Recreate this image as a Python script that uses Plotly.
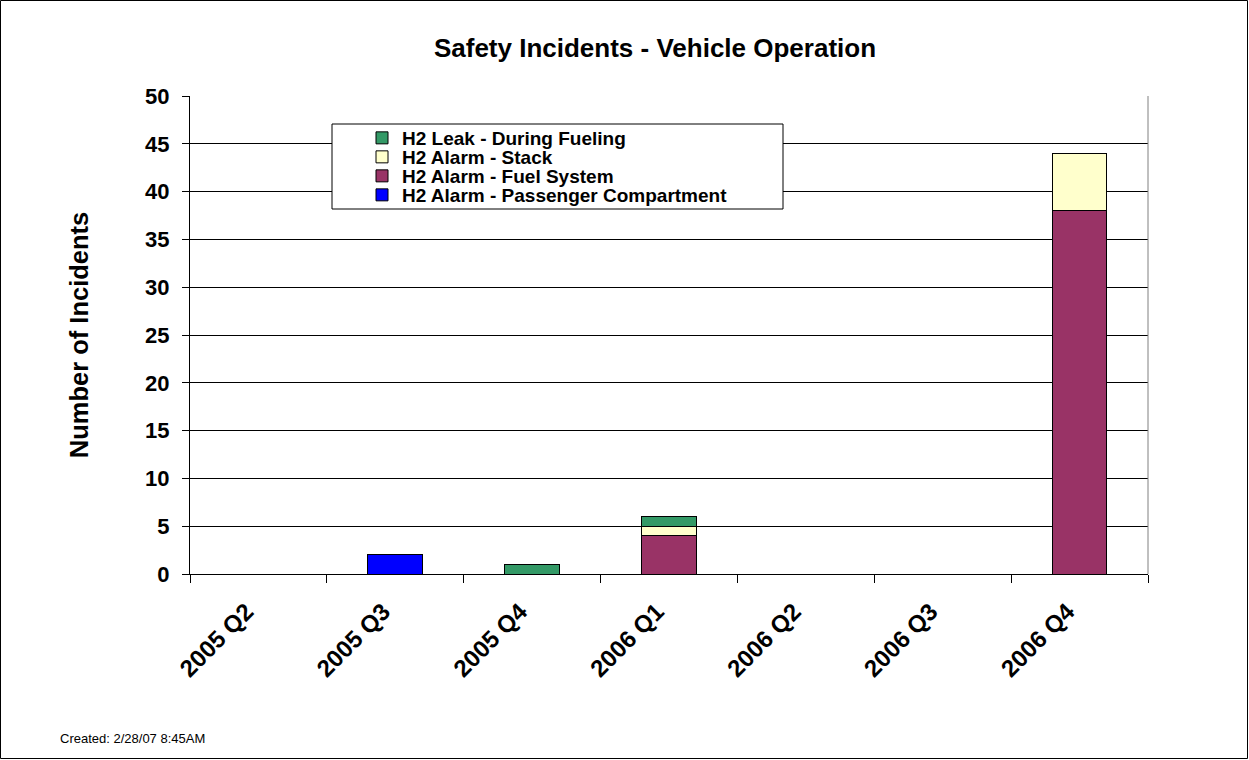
import plotly.graph_objects as go

quarters = ["2005 Q2", "2005 Q3", "2005 Q4", "2006 Q1", "2006 Q2", "2006 Q3", "2006 Q4"]
passenger = [0, 2, 0, 0, 0, 0, 0]
fuel_system = [0, 0, 0, 4, 0, 0, 38]
stack = [0, 0, 0, 1, 0, 0, 6]
leak = [0, 0, 1, 1, 0, 0, 0]

series = [
    ("H2 Alarm - Passenger Compartment", passenger, "#0000FF"),
    ("H2 Alarm - Fuel System", fuel_system, "#993366"),
    ("H2 Alarm - Stack", stack, "#FFFFCC"),
    ("H2 Leak - During Fueling", leak, "#339966"),
]

W, H = 1249, 760
L, R, T, B = 190, 1148, 96, 574
pw, ph = R - L, B - T

def px(x):
    return (x - L) / pw

def py(y):
    return (B - y) / ph

FONT = "Arial, Liberation Sans, sans-serif"

legend_rows = {"H2 Leak - During Fueling": 138, "H2 Alarm - Stack": 157,
               "H2 Alarm - Fuel System": 176, "H2 Alarm - Passenger Compartment": 195}
legend_ids = {"H2 Leak - During Fueling": "legend", "H2 Alarm - Stack": "legend2",
              "H2 Alarm - Fuel System": "legend3", "H2 Alarm - Passenger Compartment": "legend4"}

fig = go.Figure()
for name, vals, col in series:
    fig.add_trace(go.Bar(
        x=quarters, y=vals, name=name, legend=legend_ids[name],
        marker=dict(color=col, line=dict(color="black", width=1)),
    ))

legend_layout = {}
for name, lid in legend_ids.items():
    legend_layout[lid] = dict(
        x=px(362), y=py(legend_rows[name]), xanchor="left", yanchor="middle",
        bgcolor="rgba(0,0,0,0)", borderwidth=0,
        font=dict(family=FONT, size=19, weight="bold", color="black"),
        itemwidth=30,
    )

fig.update_layout(
    width=W, height=H,
    margin=dict(l=L, r=W - R, t=T, b=H - B, pad=0),
    barmode="stack", bargap=0.6,
    paper_bgcolor="white", plot_bgcolor="white",
    font=dict(family=FONT, color="black"),
    title=dict(text="Safety Incidents - Vehicle Operation",
               font=dict(family=FONT, size=26, weight="bold", color="black"),
               x=px(655), xref="paper", xanchor="center",
               y=1 - 48 / H, yanchor="middle"),
    showlegend=True,
    xaxis=dict(
        type="category", tickangle=-45, tickson="boundaries",
        ticks="outside", ticklen=8, tickcolor="black",
        showline=True, linecolor="black", linewidth=1,
        showgrid=False, ticklabelstandoff=13, ticklabelshift=-12,
        tickfont=dict(family=FONT, size=24, weight="bold", color="black"),
    ),
    yaxis=dict(
        range=[0, 50], dtick=5, tick0=0,
        ticks="outside", ticklen=7, tickcolor="black",
        showline=True, linecolor="black", linewidth=1,
        showgrid=True, gridcolor="black", gridwidth=1,
        zeroline=False, ticklabelstandoff=8,
        tickfont=dict(family=FONT, size=22, weight="bold", color="black"),
        title=dict(text="Number of Incidents", standoff=49,
                   font=dict(family=FONT, size=25.5, weight="bold", color="black")),
    ),
    **legend_layout,
)

shapes = [
    dict(type="rect", xref="paper", yref="paper",
         x0=px(332), x1=px(783), y0=py(209), y1=py(124),
         fillcolor="white", line=dict(color="black", width=1), layer="above"),
    dict(type="line", xref="paper", yref="paper", x0=1, x1=1, y0=0, y1=1,
         line=dict(color="#808080", width=1), layer="above"),
    dict(type="rect", xref="paper", yref="paper",
         x0=px(0.5), x1=px(W - 1.5), y0=py(H - 1.5), y1=py(0.5),
         line=dict(color="black", width=1), fillcolor="rgba(0,0,0,0)"),
]
fig.update_layout(shapes=shapes)

fig.add_annotation(text="Created: 2/28/07 8:45AM", xref="paper", yref="paper",
                   x=px(58), y=py(738), xanchor="left", yanchor="middle",
                   showarrow=False, font=dict(family=FONT, size=13, color="black"))

fig.write_html("out.html", config={"displayModeBar": False},
               post_script="document.body.style.margin='0';document.body.style.padding='0';")
